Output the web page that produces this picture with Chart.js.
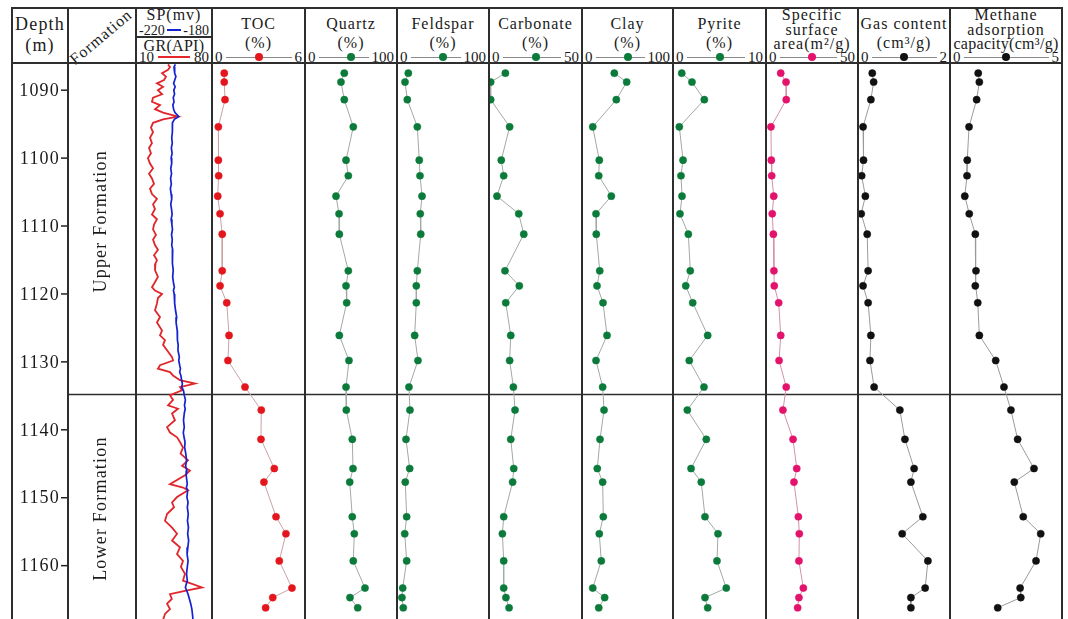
<!DOCTYPE html>
<html>
<head>
<meta charset="utf-8">
<title>Well log</title>
<script src="https://cdn.jsdelivr.net/npm/chart.js@4.4.1/dist/chart.umd.min.js"></script>
<style>
  html, body { margin: 0; padding: 0; background: #fff; }
  #sheet { position: relative; width: 1068px; height: 619px; overflow: hidden;
           font-family: "Liberation Serif", "Times New Roman", serif; color: #1a1a1a; }
  .rule { position: absolute; background: #2e2e2e; z-index: 5; }
  .plot { position: absolute; }
  .txt { position: absolute; white-space: nowrap; letter-spacing: 1px; font-size: 16px;
         line-height: 16px; transform: translate(-50%, -50%); }
  .key { position: absolute; display: flex; align-items: center; font-size: 15px; line-height: 15px; }
  .key .ln { flex: 1; height: 1px; background: #8a8a8a; margin: 0 3px; }
  .key .dot { position: absolute; width: 8px; height: 8px; border-radius: 50%; top: 50%;
              transform: translate(-50%, -50%); }
</style>
</head>
<body>
<div id="sheet"></div>
<script>
// ---------- depth axis and formations ----------
const depthRange = [1086, 1168];
const depthTicks = [1090, 1100, 1110, 1120, 1130, 1140, 1150, 1160];
const formationNames = ['Upper Formation', 'Lower Formation'];
const formationLabelDepth = [1109.3, 1151.6];
const formationBoundary = [1134.8];

// ---------- core sample measurements ----------
const sampleDepth = [1087.5, 1088.8, 1091.4, 1095.4, 1100.3, 1102.6, 1105.6, 1108.2, 1111.2, 1116.6, 1118.8, 1121.3, 1126.1,
                     1129.8, 1133.7, 1137.1, 1141.4, 1145.7, 1147.7, 1152.8, 1155.3, 1159.3, 1163.3, 1164.7, 1166.2];
const toc       = [0.79, 0.79, 0.84, 0.41, 0.41, 0.43, 0.37, 0.52, 0.66, 0.66, 0.52, 0.95, 1.10,
                   1.03, 2.13, 3.18, 3.16, 4.02, 3.35, 4.13, 4.77, 4.34, 5.16, 3.92, 3.46];
const quartz    = [42.7, 39.1, 42.7, 52.5, 44.6, 47.1, 33.7, 37.0, 37.3, 47.1, 44.6, 45.3, 37.3,
                   47.8, 44.6, 44.9, 51.4, 52.2, 48.6, 51.4, 53.6, 52.5, 65.2, 48.9, 57.3];
const feldspar  = [12.3, 8.7, 11.2, 22.1, 24.2, 25.0, 27.2, 25.3, 25.8, 22.1, 21.0, 21.0, 19.2,
                   22.8, 13.0, 14.1, 9.8, 13.8, 9.0, 10.5, 8.4, 10.5, 6.2, 5.4, 6.8];
const carbonate = [8.8, 0.9, 0.9, 11.1, 6.6, 7.9, 4.3, 16.0, 18.7, 8.6, 16.3, 9.0, 11.7,
                   11.1, 13.1, 14.0, 11.7, 13.3, 12.7, 7.9, 7.2, 7.9, 7.9, 9.1, 10.8];
const clay      = [35.5, 49.1, 37.7, 11.8, 19.0, 18.4, 32.2, 15.4, 15.7, 19.5, 16.5, 23.1, 27.5,
                   15.4, 22.7, 24.2, 19.8, 16.8, 22.7, 23.4, 19.0, 21.2, 11.8, 24.9, 18.4];
const pyrite    = [0.94, 2.04, 3.37, 0.68, 1.08, 0.86, 0.97, 0.75, 1.65, 1.86, 1.37, 2.12, 3.73,
                   1.75, 3.33, 1.54, 3.58, 1.94, 3.04, 3.44, 4.84, 4.73, 5.73, 3.44, 3.73];
const surfaceArea = [8.0, 10.9, 11.0, 2.7, 2.9, 3.1, 4.2, 3.4, 4.0, 4.3, 4.5, 6.9, 8.0,
                     7.1, 11.0, 9.2, 14.7, 16.7, 15.2, 17.6, 18.1, 17.9, 20.3, 17.9, 17.2];
const gasContent  = [0.31, 0.34, 0.28, 0.11, 0.12, 0.08, 0.16, 0.07, 0.20, 0.22, 0.11, 0.22, 0.28,
                     0.26, 0.35, 0.91, 1.02, 1.22, 1.15, 1.41, 0.96, 1.52, 1.46, 1.15, 1.15];
const methaneCapacity = [1.26, 1.31, 1.19, 0.85, 0.77, 0.76, 0.66, 0.86, 1.13, 1.16, 1.13, 1.24, 1.31,
                         2.04, 2.41, 2.72, 3.02, 3.75, 2.87, 3.27, 4.05, 3.84, 3.13, 3.16, 2.13];

// ---------- wireline logs ----------
const logDepth = [1086.2, 1086.6, 1087.0, 1087.5, 1088.0, 1088.5, 1089.0, 1089.5, 1090.0, 1090.6,
                  1091.1, 1091.7, 1092.2, 1092.8, 1093.3, 1093.9, 1094.3, 1094.8, 1095.5, 1096.2,
                  1097.0, 1097.8, 1098.5, 1099.3, 1100.0, 1100.8, 1101.5, 1102.3, 1103.0, 1103.8,
                  1104.5, 1105.3, 1106.0, 1106.8, 1107.5, 1108.3, 1109.0, 1109.8, 1110.5, 1111.3,
                  1112.0, 1112.8, 1113.5, 1114.3, 1115.0, 1115.5, 1116.5, 1117.5, 1118.5, 1119.0,
                  1119.5, 1120.0, 1120.6, 1121.4, 1122.4, 1123.4, 1124.2, 1125.4, 1126.1, 1126.8,
                  1127.5, 1128.3, 1129.3, 1129.8, 1130.5, 1131.0, 1131.5, 1132.0, 1132.7, 1133.2,
                  1133.7, 1134.2, 1134.9, 1135.6, 1136.4, 1136.9, 1137.6, 1138.6, 1139.6, 1140.4,
                  1141.1, 1141.8, 1142.6, 1143.5, 1144.5, 1145.3, 1146.0, 1146.7, 1148.0, 1148.5,
                  1148.9, 1149.9, 1150.7, 1151.4, 1152.4, 1153.4, 1154.4, 1155.3, 1156.3, 1157.3,
                  1158.3, 1159.3, 1160.2, 1161.2, 1162.2, 1163.2, 1163.7, 1164.2, 1164.9, 1165.6,
                  1166.4, 1167.1, 1168.0];
const gr = [39.5, 41.3, 39.5, 34.0, 37.6, 35.8, 29.3, 34.9, 30.2, 34.0,
            25.7, 24.7, 32.1, 27.5, 34.9, 48.7, 34.9, 25.7, 23.8, 25.7,
            22.9, 24.7, 22.0, 23.8, 21.0, 22.9, 25.7, 22.0, 24.7, 26.6,
            22.9, 24.7, 29.3, 25.7, 27.5, 24.7, 29.3, 26.6, 25.7, 28.4,
            25.7, 27.5, 30.2, 26.6, 29.3, 28.0, 27.5, 30.2, 26.6, 24.7,
            27.5, 34.0, 30.2, 29.3, 27.5, 32.1, 29.3, 34.0, 32.1, 36.7,
            34.9, 38.6, 43.2, 44.1, 32.1, 30.2, 41.3, 44.1, 50.5, 64.3,
            50.5, 52.4, 41.3, 44.1, 39.5, 48.7, 43.2, 45.9, 38.6, 41.3,
            47.8, 50.5, 53.3, 51.0, 57.9, 52.4, 59.7, 55.1, 41.3, 53.3,
            57.9, 47.8, 43.2, 45.0, 38.6, 36.7, 43.2, 47.8, 43.2, 50.5,
            47.8, 53.3, 51.4, 55.1, 53.3, 70.8, 55.1, 41.3, 43.0, 38.6,
            41.3, 36.7, 34.9];
const sp = [-199.3, -200.0, -199.5, -199.8, -199.0, -199.6, -200.2, -199.4, -200.1, -199.7,
            -200.4, -200.0, -200.6, -200.2, -199.5, -197.5, -199.8, -200.8, -201.0, -200.7,
            -201.2, -200.9, -201.4, -201.0, -201.5, -201.2, -201.7, -201.3, -201.8, -201.4,
            -201.9, -201.5, -201.2, -201.7, -201.3, -201.0, -201.5, -201.1, -200.8, -201.3,
            -200.9, -201.2, -200.7, -201.0, -200.6, -200.9, -200.4, -200.7, -200.2, -199.8,
            -200.3, -199.9, -199.5, -199.8, -199.2, -198.6, -198.9, -198.3, -198.0, -198.4,
            -197.8, -197.9, -197.2, -197.5, -197.0, -196.6, -197.0, -196.4, -196.0, -195.6,
            -195.9, -195.0, -194.6, -194.0, -194.5, -194.1, -194.6, -195.0, -194.6, -195.1,
            -194.7, -194.2, -194.4, -193.8, -193.4, -193.9, -193.2, -193.6, -193.0, -193.5,
            -192.8, -193.2, -192.6, -193.0, -192.5, -192.9, -192.4, -192.8, -192.3, -192.7,
            -193.1, -192.6, -193.0, -193.4, -193.0, -194.0, -193.3, -192.6, -191.9, -191.2,
            -190.6, -190.3, -190.0];

// ---------- axis ranges (header scale labels) ----------
const spRange = [-220, -180];
const grRange = [10, 80];
const tocRange = [0, 6];
const pctRange = [0, 100];
const carbonateRange = [0, 50];
const pyriteRange = [0, 10];
const surfaceRange = [0, 50];
const gasRange = [0, 2];
const methaneRange = [0, 5];

// ---------- sheet layout ----------
const sheet = document.getElementById('sheet');
const cols = [12, 68, 136, 212, 305, 397, 489, 582, 673, 766, 858, 950, 1062];
const TOP = 8, HEAD = 63, PLOT_H = 557, BOTTOM = 640;
const SERIF = '"Liberation Serif", "Times New Roman", serif';

function rule(x, y, w, h) {
  const d = document.createElement('div');
  d.className = 'rule';
  Object.assign(d.style, { left: x + 'px', top: y + 'px', width: w + 'px', height: h + 'px' });
  sheet.appendChild(d);
}
cols.forEach(x => rule(x - 1, TOP - 1, 2, BOTTOM - TOP));
rule(cols[0] - 1, TOP - 1, cols[cols.length - 1] - cols[0] + 2, 2);
rule(cols[0] - 1, HEAD - 1, cols[cols.length - 1] - cols[0] + 2, 2);
rule(cols[2], 36, cols[3] - cols[2], 1.5);

function label(str, cx, cy, size, extra) {
  const d = document.createElement('div');
  d.className = 'txt';
  d.textContent = str;
  d.style.left = cx + 'px';
  d.style.top = cy + 'px';
  if (size) { d.style.fontSize = size + 'px'; d.style.lineHeight = size + 'px'; }
  if (extra) Object.assign(d.style, extra);
  sheet.appendChild(d);
  return d;
}

function scaleKey(colIdx, cy, lo, hi, lineColor, dotColor, opts) {
  opts = opts || {};
  const left = cols[colIdx], w = cols[colIdx + 1] - left;
  const k = document.createElement('div');
  k.className = 'key';
  Object.assign(k.style, { left: (left + 3) + 'px', width: (w - 6) + 'px', top: (cy - 8) + 'px', height: '16px' });
  if (opts.size) k.style.fontSize = opts.size + 'px';
  const a = document.createElement('span'); a.textContent = String(lo);
  const ln = document.createElement('div'); ln.className = 'ln';
  if (lineColor) ln.style.background = lineColor;
  if (opts.lw) ln.style.height = opts.lw + 'px';
  if (opts.lineMargin) ln.style.margin = opts.lineMargin;
  const b = document.createElement('span'); b.textContent = String(hi);
  k.append(a, ln, b);
  if (dotColor) {
    const dot = document.createElement('div');
    dot.className = 'dot';
    dot.style.background = dotColor;
    dot.style.left = (w / 2 - 3) + 'px';
    k.appendChild(dot);
  }
  sheet.appendChild(k);
}

// left headers
label('Depth', (cols[0] + cols[1]) / 2, 24, 18, { letterSpacing: '1.2px' });
label('(m)', (cols[0] + cols[1]) / 2, 45, 18, { letterSpacing: '1.2px' });
label('Formation', 101, 37, 16, { transform: 'translate(-50%, -50%) rotate(-40deg)' });
label('SP(mv)', (cols[2] + cols[3]) / 2, 15, 16);
scaleKey(2, 30, spRange[0], spRange[1], '#1422d0', null, { size: 14, lw: 2, lineMargin: '0 2px' });
label('GR(API)', (cols[2] + cols[3]) / 2, 46, 16, { letterSpacing: '0.3px' });
scaleKey(2, 57, grRange[0], grRange[1], '#e5262a', null, { size: 15, lw: 2, lineMargin: '0 4px' });

// ---------- sample tracks ----------
const GREEN = '#0b7a3b';
const tracks = [
  { col: 3,  title: ['TOC', '(%)'], range: tocRange, values: toc, dot: '#e3161e', line: '#c9a3a3' },
  { col: 4,  title: ['Quartz', '(%)'], range: pctRange, values: quartz, dot: GREEN, line: '#a0aaa2' },
  { col: 5,  title: ['Feldspar', '(%)'], range: pctRange, values: feldspar, dot: GREEN, line: '#a0aaa2' },
  { col: 6,  title: ['Carbonate', '(%)'], range: carbonateRange, values: carbonate, dot: GREEN, line: '#a0aaa2' },
  { col: 7,  title: ['Clay', '(%)'], range: pctRange, values: clay, dot: GREEN, line: '#a0aaa2' },
  { col: 8,  title: ['Pyrite', '(%)'], range: pyriteRange, values: pyrite, dot: GREEN, line: '#a0aaa2' },
  { col: 9,  title: ['Specific', 'surface', 'area(m²/g)'], range: surfaceRange, values: surfaceArea, dot: '#e3126a', line: '#d590aa' },
  { col: 10, title: ['Gas content', '(cm³/g)'], range: gasRange, values: gasContent, dot: '#111111', line: '#9a9a9a' },
  { col: 11, title: ['Methane', 'adsorption', 'capacity(cm³/g)'], range: methaneRange, values: methaneCapacity, dot: '#111111', line: '#9a9a9a' }
];

tracks.forEach(t => {
  const cx = (cols[t.col] + cols[t.col + 1]) / 2;
  if (t.title.length === 2) {
    label(t.title[0], cx, 24);
    label(t.title[1], cx, 43);
  } else {
    t.title.forEach((s, i) => label(s, cx, 15 + i * 14.5, 16, { letterSpacing: i === 2 && t.col === 11 ? '0.3px' : '1px' }));
  }
  scaleKey(t.col, 57, t.range[0], t.range[1], '#8a8a8a', t.dot);
});

// ---------- charts ----------
Chart.defaults.font.family = SERIF;

const boundaryPlugin = {
  id: 'formationBoundary',
  beforeDatasetsDraw(chart) {
    const { ctx, chartArea: a, scales: { y } } = chart;
    ctx.save();
    ctx.strokeStyle = '#2e2e2e';
    ctx.lineWidth = 1.6;
    formationBoundary.forEach(d => {
      const py = y.getPixelForValue(d);
      ctx.beginPath();
      ctx.moveTo(a.left, py);
      ctx.lineTo(a.right, py);
      ctx.stroke();
    });
    ctx.restore();
  }
};

function makePlot(left, width, datasets, xScales, extra) {
  const wrap = document.createElement('div');
  wrap.className = 'plot';
  Object.assign(wrap.style, { left: left + 'px', top: HEAD + 'px', width: width + 'px', height: PLOT_H + 'px' });
  const cv = document.createElement('canvas');
  wrap.appendChild(cv);
  sheet.appendChild(wrap);
  extra = extra || {};
  return new Chart(cv, {
    type: 'scatter',
    data: { datasets },
    options: {
      responsive: true,
      maintainAspectRatio: false,
      animation: false,
      devicePixelRatio: 1,
      events: [],
      layout: { padding: extra.padding || 0, autoPadding: false },
      plugins: { legend: { display: false }, tooltip: { enabled: false } },
      scales: Object.assign({
        y: { type: 'linear', reverse: true, min: depthRange[0], max: depthRange[1], display: false }
      }, xScales)
    },
    plugins: [boundaryPlugin].concat(extra.plugins || [])
  });
}

// depth column + formation column
const depthAxisPlugin = {
  id: 'depthAxis',
  afterDraw(chart) {
    const { ctx, chartArea: a, scales: { y } } = chart;
    ctx.save();
    ctx.strokeStyle = '#222';
    ctx.lineWidth = 1.5;
    ctx.fillStyle = '#1a1a1a';
    ctx.font = '18px ' + SERIF;
    if ('letterSpacing' in ctx) ctx.letterSpacing = '1.2px';
    ctx.textAlign = 'right';
    ctx.textBaseline = 'middle';
    depthTicks.forEach(v => {
      const py = y.getPixelForValue(v);
      ctx.beginPath();
      ctx.moveTo(a.left - 7, py);
      ctx.lineTo(a.left, py);
      ctx.stroke();
      ctx.fillText(String(v), a.left - 8, py + 1);
    });
    ctx.textAlign = 'center';
    formationNames.forEach((name, i) => {
      const py = y.getPixelForValue(formationLabelDepth[i]);
      ctx.save();
      ctx.translate((a.left + a.right) / 2 - 1, py);
      ctx.rotate(-Math.PI / 2);
      ctx.fillText(name, 0, 0);
      ctx.restore();
    });
    ctx.restore();
  }
};
makePlot(cols[0], cols[2] - cols[0], [], { x: { type: 'linear', min: 0, max: 1, display: false } },
         { padding: { left: cols[1] - cols[0] }, plugins: [depthAxisPlugin] });

// SP / GR logs
const toPairs = (xs, ys) => xs.map((v, i) => ({ x: v, y: ys[i] }));
makePlot(cols[2], cols[3] - cols[2], [
  { data: toPairs(sp, logDepth), xAxisID: 'xsp', showLine: true, borderColor: '#1422d0', borderWidth: 1.7,
    pointRadius: 0, tension: 0 },
  { data: toPairs(gr, logDepth), xAxisID: 'xgr', showLine: true, borderColor: '#e0262a', borderWidth: 1.8,
    pointRadius: 0, tension: 0 }
], {
  xsp: { type: 'linear', min: spRange[0], max: spRange[1], display: false },
  xgr: { type: 'linear', min: grRange[0], max: grRange[1], display: false }
});

// sample tracks
tracks.forEach(t => {
  makePlot(cols[t.col], cols[t.col + 1] - cols[t.col], [{
    data: toPairs(t.values, sampleDepth),
    showLine: true,
    borderColor: t.line,
    borderWidth: 1,
    pointRadius: 3.6,
    pointBackgroundColor: t.dot,
    pointBorderColor: t.dot,
    pointBorderWidth: 0.5,
    clip: false,
    tension: 0
  }], { x: { type: 'linear', min: t.range[0], max: t.range[1], display: false } });
});
</script>
</body>
</html>
